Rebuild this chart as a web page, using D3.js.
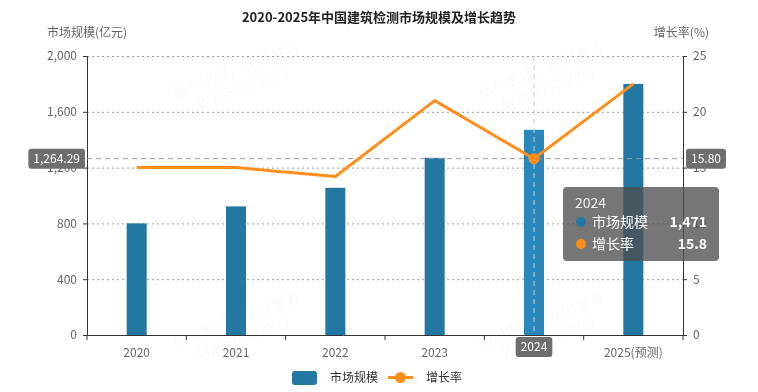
<!DOCTYPE html>
<html><head><meta charset="utf-8">
<script src="https://cdn.jsdelivr.net/npm/d3@7"></script>
<style>
body{margin:0;background:#fff;}
svg{display:block;font-family:"Noto Sans CJK SC","Noto Sans",sans-serif;}
</style></head>
<body><svg id="c" width="758" height="392"></svg>
<script>
const categories = ["2020","2021","2022","2023","2024","2025(预测)"];
const marketSize = [800, 922, 1055, 1270, 1471, 1800];
const growthRate = [15.0, 15.0, 14.2, 21.0, 15.8, 22.5];
const leftTicks = [0, 400, 800, 1200, 1600, 2000];
const rightTicks = [0, 5, 10, 15, 20, 25];
const title = "2020-2025年中国建筑检测市场规模及增长趋势";
const hoverIndex = 4;
const pointerValue = 1264.29;

const svg = d3.select("#c");
const L = 87, R = 683, T = 56, B = 335;
const x = d3.scaleBand().domain(categories).range([L, R]);
const yL = d3.scaleLinear().domain([0, 2000]).range([B, T]);
const yR = d3.scaleLinear().domain([0, 25]).range([B, T]);
const barColor = "#2277a3", barHi = "#2a87bb", lineColor = "#ff8f1a";
const fmt = d3.format(",");

// watermarks (very faint)
const wm = svg.append("g").attr("fill", "#000").attr("opacity", 0.03).attr("font-size", 15);
[[240,80],[545,80],[240,330],[545,330]].forEach(([cx,cy])=>{
  const g = wm.append("g").attr("transform", `translate(${cx},${cy}) rotate(-20)`);
  g.append("text").attr("text-anchor","middle").attr("y",-6).text("由AI生成，仅供参考");
  g.append("text").attr("text-anchor","middle").attr("y",14).text("W2050979009");
});

// title
svg.append("text").attr("x", 379).attr("y", 22).attr("text-anchor", "middle")
  .attr("font-size", 13).attr("font-weight", "bold").attr("fill", "#222").text(title);
svg.append("text").attr("x", 47).attr("y", 37).attr("font-size", 12).attr("fill", "#666").text("市场规模(亿元)");
svg.append("text").attr("x", 709).attr("y", 37).attr("text-anchor", "end").attr("font-size", 12).attr("fill", "#666").text("增长率(%)");

// grid
svg.append("g").selectAll("line").data(leftTicks.filter(d=>d>0)).join("line")
  .attr("x1", L).attr("x2", R).attr("y1", d=>yL(d)+0.5).attr("y2", d=>yL(d)+0.5)
  .attr("stroke", "#999").attr("stroke-dasharray", "2,3");

// axes
const gl = svg.append("g").attr("transform", `translate(${L},0)`)
  .call(d3.axisLeft(yL).tickValues(leftTicks).tickFormat(fmt).tickSize(4).tickPadding(6));
const gr = svg.append("g").attr("transform", `translate(${R},0)`)
  .call(d3.axisRight(yR).tickValues(rightTicks).tickSize(4).tickPadding(6));
const gx = svg.append("g").attr("transform", `translate(0,${B})`)
  .call(d3.axisBottom(x).tickSize(0).tickPadding(13));
[gl, gr, gx].forEach(g => {
  g.select(".domain").attr("stroke", "#333");
  g.selectAll(".tick line").attr("stroke", "#333");
  g.selectAll("text").attr("fill", "#666").attr("font-size", 12)
   .attr("font-family", '"Noto Sans CJK SC","Noto Sans",sans-serif');
});
const bounds = categories.map(c => x(c)).concat([R]);
gx.selectAll(".bt").data(bounds).join("line").attr("class","bt")
  .attr("x1", d=>d).attr("x2", d=>d).attr("y1", 0).attr("y2", 5).attr("stroke", "#333");

// bars
const bw = 20;
svg.append("g").selectAll("rect").data(marketSize).join("rect")
  .attr("x", (d,i) => x(categories[i]) + x.bandwidth()/2 - bw/2)
  .attr("y", d => yL(d)).attr("width", bw).attr("height", d => B - yL(d))
  .attr("fill", (d,i) => i === hoverIndex ? barHi : barColor);

// crosshair
const cx = x(categories[hoverIndex]) + x.bandwidth()/2;
const cy = yL(pointerValue);
svg.append("line").attr("x1", cx).attr("x2", cx).attr("y1", T).attr("y2", B)
  .attr("stroke", "#ccc").attr("stroke-dasharray", "5,4");
svg.append("line").attr("x1", L).attr("x2", R).attr("y1", cy).attr("y2", cy)
  .attr("stroke", "#999").attr("stroke-dasharray", "5,4");

// line
const pts = growthRate.map((d,i) => [x(categories[i]) + x.bandwidth()/2, yR(d)]);
svg.append("path").attr("d", d3.line()(pts)).attr("fill", "none")
  .attr("stroke", lineColor).attr("stroke-width", 3).attr("stroke-linejoin", "round");
svg.append("circle").attr("cx", pts[hoverIndex][0]).attr("cy", pts[hoverIndex][1]).attr("r", 5.5)
  .attr("fill", lineColor);

// pointer labels
function label(cxp, cyp, txt, anchor) {
  const g = svg.append("g");
  const t = g.append("text").attr("font-size", 12).attr("fill", "#fff").text(txt);
  const w = t.node().getComputedTextLength() + 10, h = 20;
  let x0 = anchor === "end" ? cxp - w : anchor === "middle" ? cxp - w/2 : cxp;
  g.insert("rect", "text").attr("x", x0).attr("y", cyp - h/2).attr("width", w).attr("height", h)
    .attr("rx", 3).attr("fill", "#6e6e6e");
  t.attr("x", x0 + w/2).attr("y", cyp + 4).attr("text-anchor", "middle");
}
label(85, cy, d3.format(",.2f")(pointerValue), "end");
label(686, cy, yR.invert(cy).toFixed(2), "start");
label(cx, 347, categories[hoverIndex], "middle");

// tooltip
const tt = svg.append("g").attr("transform", "translate(563,187)");
tt.append("rect").attr("width", 156).attr("height", 74).attr("rx", 4)
  .attr("fill", "rgba(80,80,80,0.78)");
tt.append("text").attr("x", 12).attr("y", 21).attr("font-size", 14).attr("fill", "#eee").text(categories[hoverIndex]);
const rows = [["市场规模", fmt(marketSize[hoverIndex]), barColor], ["增长率", String(growthRate[hoverIndex]), lineColor]];
rows.forEach((r, i) => {
  const yy = 35 + i * 22;
  tt.append("circle").attr("cx", 18).attr("cy", yy).attr("r", 5).attr("fill", r[2]);
  tt.append("text").attr("x", 29).attr("y", yy + 5).attr("font-size", 14).attr("fill", "#fff").text(r[0]);
  tt.append("text").attr("x", 144).attr("y", yy + 5).attr("text-anchor", "end").attr("font-size", 14)
    .attr("font-weight", "bold").attr("fill", "#fff").text(r[1]);
});

// legend
const lg = svg.append("g");
lg.append("rect").attr("x", 292).attr("y", 371).attr("width", 25).attr("height", 14).attr("rx", 3).attr("fill", barColor);
lg.append("text").attr("x", 330).attr("y", 382).attr("font-size", 12).attr("fill", "#333").text("市场规模");
lg.append("line").attr("x1", 388).attr("x2", 413).attr("y1", 377.5).attr("y2", 377.5).attr("stroke", lineColor).attr("stroke-width", 3);
lg.append("circle").attr("cx", 400.5).attr("cy", 377.5).attr("r", 5.5).attr("fill", lineColor);
lg.append("text").attr("x", 426).attr("y", 382).attr("font-size", 12).attr("fill", "#333").text("增长率");
</script></body></html>
